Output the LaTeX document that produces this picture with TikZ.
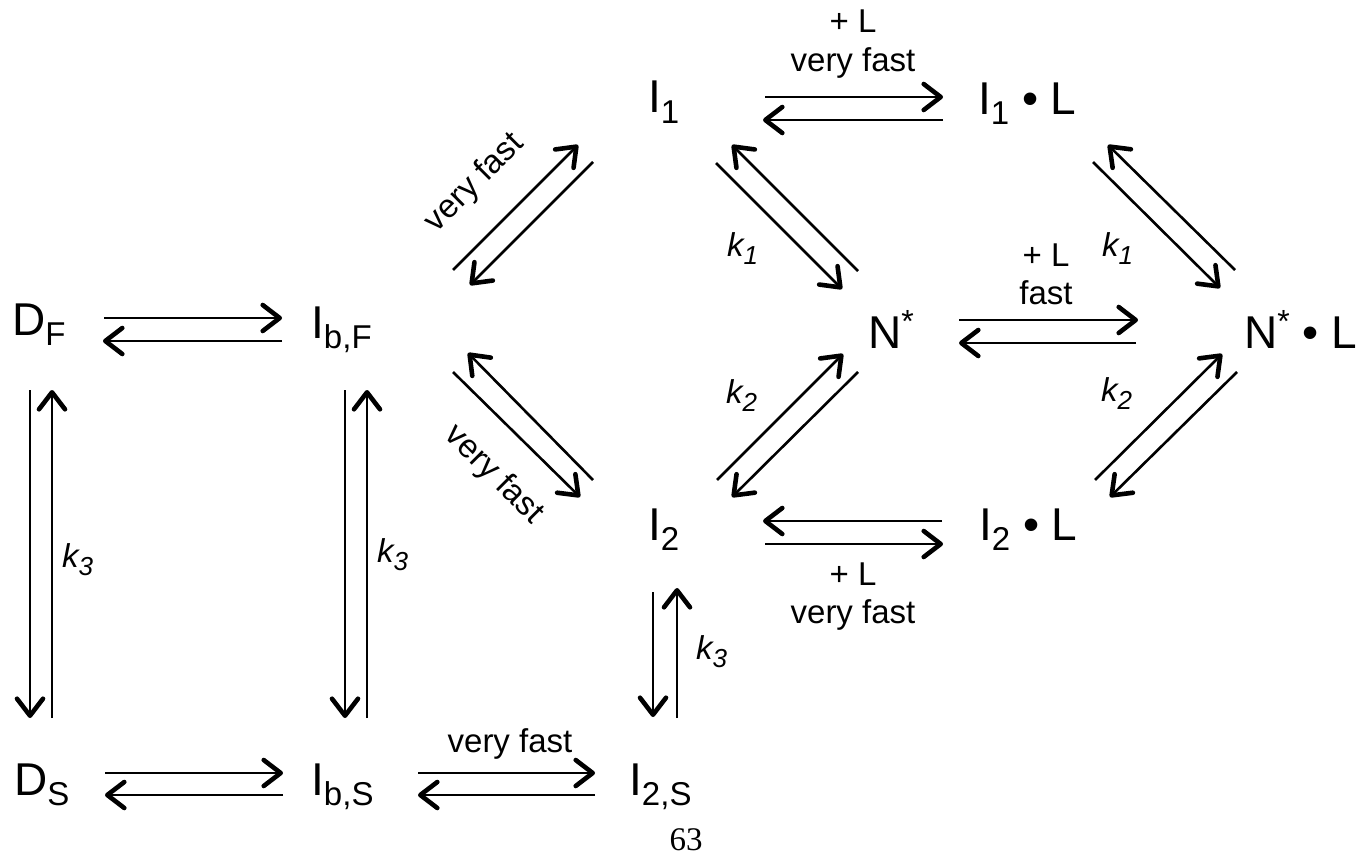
\documentclass[tikz,border=0pt]{standalone}
\usepackage{fontspec}
\setmainfont{Liberation Sans}
\newfontfamily\timesf{Liberation Serif}
\usetikzlibrary{arrows.meta}
\newcommand{\mysub}[1]{\raisebox{-10pt}{\fontsize{33}{33}\selectfont #1}}
\newcommand{\mysup}[1]{\raisebox{16pt}{\fontsize{32}{32}\selectfont #1}}
\newcommand{\ksub}[1]{\raisebox{-8pt}{\fontsize{26}{26}\selectfont #1}}
\begin{document}
\begin{tikzpicture}[x=1pt,y=-1pt,
  state/.style={inner sep=0pt, anchor=base west, font=\fontsize{46}{46}\selectfont},
  lbl/.style={inner sep=0pt, anchor=base, font=\fontsize{33}{33}\selectfont},
  klbl/.style={inner sep=0pt, anchor=base west, font=\fontsize{33}{33}\selectfont\itshape},
  rx/.style={line width=2.6pt, -{Straight Barb[length=17pt,width=26pt,line width=4.6pt,round]}}
]
\useasboundingbox (0,0) rectangle (1371,859);
% states
\node[state] (DF)   at (12,335)  {D\mysub{F}};
\node[state] (IbF)  at (311,338) {I\mysub{b,F}};
\node[state] (I1)   at (648,113) {I\mysub{1}};
\node[state] (I1L)  at (978,114) {I\mysub{1} \textbullet{} L};
\node[state] (Nst)  at (868,348) {N\mysup{*}};
\node[state] (NstL) at (1244,348) {N\mysup{*} \textbullet{} L};
\node[state] (I2)   at (648,540) {I\mysub{2}};
\node[state] (I2L)  at (979,540) {I\mysub{2} \textbullet{} L};
\node[state] (DS)   at (14,795)  {D\mysub{S}};
\node[state] (IbS)  at (311,795) {I\mysub{b,S}};
\node[state] (I2S)  at (629,795) {I\mysub{2,S}};
% horizontal pairs
\draw[rx] ([shift={(92,-17)}]DF.base west) -- ([shift={(-29,-20)}]IbF.base west);
\draw[rx] ([shift={(-29,3)}]IbF.base west) -- ([shift={(91,6)}]DF.base west);
\draw[rx] ([shift={(91,-22)}]DS.base west) -- ([shift={(-28,-22)}]IbS.base west);
\draw[rx] ([shift={(-28,0)}]IbS.base west) -- ([shift={(91,0)}]DS.base west);
\draw[rx] ([shift={(107,-22)}]IbS.base west) -- ([shift={(-34,-22)}]I2S.base west);
\draw[rx] ([shift={(-34,0)}]I2S.base west) -- ([shift={(107,0)}]IbS.base west);
\draw[rx] ([shift={(117,-16)}]I1.base west) -- ([shift={(-35,-17)}]I1L.base west);
\draw[rx] ([shift={(-35,6)}]I1L.base west) -- ([shift={(115,7)}]I1.base west);
\draw[rx] ([shift={(91,-28)}]Nst.base west) -- ([shift={(-106,-28)}]NstL.base west);
\draw[rx] ([shift={(-108,-5)}]NstL.base west) -- ([shift={(91,-5)}]Nst.base west);
\draw[rx] ([shift={(-37,-19)}]I2L.base west) -- ([shift={(115,-19)}]I2.base west);
\draw[rx] ([shift={(117,4)}]I2.base west) -- ([shift={(-36,4)}]I2L.base west);
% verticals
\draw[rx] ([shift={(18,55)}]DF.base west) -- ([shift={(16,-77)}]DS.base west);
\draw[rx] ([shift={(38,-77)}]DS.base west) -- ([shift={(40,55)}]DF.base west);
\draw[rx] ([shift={(34,52)}]IbF.base west) -- ([shift={(34,-77)}]IbS.base west);
\draw[rx] ([shift={(56,-77)}]IbS.base west) -- ([shift={(56,52)}]IbF.base west);
\draw[rx] ([shift={(5,52)}]I2.base west) -- ([shift={(24,-78)}]I2S.base west);
\draw[rx] ([shift={(48,-77)}]I2S.base west) -- ([shift={(29,48)}]I2.base west);
% diagonals
\draw[rx] ([shift={(142,-68)}]IbF.base west) -- ([shift={(-70,32)}]I1.base west);
\draw[rx] ([shift={(-55,49)}]I1.base west) -- ([shift={(159,-53)}]IbF.base west);
\draw[rx] ([shift={(142,34)}]IbF.base west) -- ([shift={(-68,-43)}]I2.base west);
\draw[rx] ([shift={(-55,-60)}]I2.base west) -- ([shift={(157,15)}]IbF.base west);
\draw[rx] ([shift={(68,50)}]I1.base west) -- ([shift={(-26,-59)}]Nst.base west);
\draw[rx] ([shift={(-10,-77)}]Nst.base west) -- ([shift={(84,32)}]I1.base west);
\draw[rx] ([shift={(69,-60)}]I2.base west) -- ([shift={(-25,6)}]Nst.base west);
\draw[rx] ([shift={(-10,24)}]Nst.base west) -- ([shift={(84,-43)}]I2.base west);
\draw[rx] ([shift={(115,48)}]I1L.base west) -- ([shift={(-24,-60)}]NstL.base west);
\draw[rx] ([shift={(-9,-78)}]NstL.base west) -- ([shift={(130,31)}]I1L.base west);
\draw[rx] ([shift={(116,-60)}]I2L.base west) -- ([shift={(-22,6)}]NstL.base west);
\draw[rx] ([shift={(-7,24)}]NstL.base west) -- ([shift={(131,-43)}]I2L.base west);
% labels
\node[lbl] (lt1) at (853,33) {+ L};
\node[lbl] (lt2) at (853,72) {very fast};
\node[lbl] (lm1) at (1046,266) {+ L};
\node[lbl] (lm2) at (1046,304) {fast};
\node[lbl] (lb1) at (853,585) {+ L};
\node[lbl] (lb2) at (853,623) {very fast};
\node[lbl] (lbs) at (510,752) {very fast};
\node[lbl, anchor=center, rotate=45] (ld1) at (475,183) {very fast};
\node[lbl, anchor=center, rotate=-45] (ld2) at (494,475) {very fast};
\node[klbl] (k1a) at (727,256) {k\ksub{1}};
\node[klbl] (k1b) at (1102,256) {k\ksub{1}};
\node[klbl] (k2a) at (726,403) {k\ksub{2}};
\node[klbl] (k2b) at (1101,401) {k\ksub{2}};
\node[klbl] (k3a) at (62,567) {k\ksub{3}};
\node[klbl] (k3b) at (377,562) {k\ksub{3}};
\node[klbl] (k3c) at (696,659) {k\ksub{3}};
\node[inner sep=0pt, anchor=base, font=\timesf\fontsize{33}{33}\selectfont] (pg) at (686,850) {63};
\end{tikzpicture}
\end{document}
